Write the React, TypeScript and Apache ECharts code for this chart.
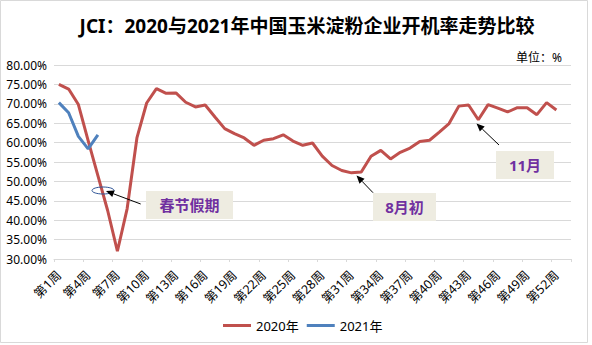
import React, { useEffect, useRef } from "react";
import * as echarts from "echarts";

const weeks: string[] = Array.from({ length: 53 }, (_, i) => `第${i + 1}周`);

const series2020: number[] = [
  75.0, 73.8, 69.8, 60.5, 51.5, 42.5, 32.0, 43.0, 61.2, 70.2, 73.9, 72.7, 72.8,
  70.4, 69.2, 69.7, 66.6, 63.6, 62.3, 61.2, 59.3, 60.6, 61.0, 62.0, 60.4, 59.3,
  59.9, 56.5, 54.1, 52.8, 52.2, 52.4, 56.5, 58.0, 55.8, 57.5, 58.6, 60.3, 60.6,
  62.7, 64.9, 69.4, 69.7, 65.9, 69.8, 68.9, 67.9, 69.0, 69.0, 67.2, 70.3, 68.4,
];

const series2021: number[] = [70.3, 67.7, 61.6, 58.4, 62.0];

const seriesNames: string[] = ["2020年", "2021年"];
const titleText = "JCI：2020与2021年中国玉米淀粉企业开机率走势比较";
const unitText = "单位：%";
const notes: string[] = ["春节假期", "8月初", "11月"];

const FONT = "'Noto Sans', 'Noto Sans CJK SC', sans-serif";

function arrow(x1: number, y1: number, x2: number, y2: number): any[] {
  const dx = x2 - x1;
  const dy = y2 - y1;
  const len = Math.sqrt(dx * dx + dy * dy);
  const ux = dx / len;
  const uy = dy / len;
  const hl = 8;
  const hw = 3.5;
  const bx = x2 - ux * hl;
  const by = y2 - uy * hl;
  return [
    {
      type: "line",
      shape: { x1, y1, x2: bx, y2: by },
      style: { stroke: "#000", lineWidth: 1 },
      z: 100,
    },
    {
      type: "polygon",
      shape: {
        points: [
          [x2, y2],
          [bx - uy * hw, by + ux * hw],
          [bx + uy * hw, by - ux * hw],
        ],
      },
      style: { fill: "#000" },
      z: 100,
    },
  ];
}

function noteBox(x: number, y: number, w: number, h: number, text: string): any[] {
  return [
    {
      type: "rect",
      shape: { x, y, width: w, height: h },
      style: { fill: "#EEECE1" },
      z: 90,
    },
    {
      type: "text",
      x: x + w / 2,
      y: y + h / 2,
      style: {
        text,
        fill: "#7030A0",
        font: `bold 15px ${FONT}`,
        textAlign: "center",
        textVerticalAlign: "middle",
      },
      z: 95,
    },
  ];
}

export default function App() {
  const ref = useRef<HTMLDivElement>(null);

  useEffect(() => {
    if (!ref.current) return;
    const chart = echarts.init(ref.current, undefined, { renderer: "svg" });
    chart.setOption({
      animation: false,
      backgroundColor: "#fff",
      grid: { left: 54, right: 21, top: 65, bottom: 86, containLabel: false },
      legend: {
        data: seriesNames,
        left: 223,
        top: 319,
        padding: 0,
        icon: "rect",
        itemWidth: 28,
        itemHeight: 3,
        itemGap: 8,
        textStyle: { fontSize: 13, color: "#000", fontFamily: FONT },
      },
      xAxis: {
        type: "category",
        data: weeks,
        boundaryGap: true,
        axisLine: { lineStyle: { color: "#D9D9D9" } },
        axisTick: { show: true, interval: 2, length: 3, lineStyle: { color: "#D9D9D9" } },
        axisLabel: {
          interval: 2,
          rotate: 45,
          fontSize: 12.5,
          color: "#000",
          fontFamily: FONT,
          margin: 14,
        },
      },
      yAxis: {
        type: "value",
        min: 30,
        max: 80,
        interval: 5,
        axisLine: { show: false },
        axisTick: { show: false },
        splitLine: { lineStyle: { color: "#D9D9D9", width: 1 } },
        axisLabel: {
          fontSize: 12,
          color: "#000",
          fontFamily: FONT,
          margin: 7,
          formatter: (v: number) => `${v.toFixed(2)}%`,
        },
      },
      series: [
        {
          name: seriesNames[0],
          type: "line",
          data: series2020,
          symbol: "none",
          lineStyle: { color: "#C0504D", width: 3 },
          itemStyle: { color: "#C0504D" },
          z: 3,
        },
        {
          name: seriesNames[1],
          type: "line",
          data: series2021,
          symbol: "none",
          lineStyle: { color: "#4F81BD", width: 3 },
          itemStyle: { color: "#4F81BD" },
          z: 4,
        },
      ],
      graphic: [
        {
          type: "rect",
          shape: { x: 0.5, y: 0.5, width: 587, height: 342 },
          style: { fill: "none", stroke: "#D9D9D9", lineWidth: 1 },
          silent: true,
        },
        {
          type: "text",
          x: 307,
          y: 26,
          style: {
            text: titleText,
            fill: "#000",
            font: `bold 19px ${FONT}`,
            textAlign: "center",
            textVerticalAlign: "middle",
          },
        },
        {
          type: "text",
          x: 562,
          y: 57,
          style: {
            text: unitText,
            fill: "#000",
            font: `12px ${FONT}`,
            textAlign: "right",
            textVerticalAlign: "middle",
          },
        },
        {
          type: "ellipse",
          shape: { cx: 103, cy: 190.5, rx: 11, ry: 3.5 },
          style: { fill: "none", stroke: "#2F5597", lineWidth: 1 },
          z: 100,
        },
        ...arrow(140.7, 204, 106, 191),
        ...arrow(373, 192.7, 356.5, 175.5),
        ...arrow(499, 145, 476.5, 123.5),
        ...noteBox(146, 191, 87, 28, notes[0]),
        ...noteBox(373, 193, 63, 28, notes[1]),
        ...noteBox(496, 151, 58, 28, notes[2]),
      ],
    });
    return () => chart.dispose();
  }, []);

  return (
    <div
      ref={ref}
      style={{ position: "fixed", left: 0, top: 0, width: 592, height: 345 }}
    />
  );
}
